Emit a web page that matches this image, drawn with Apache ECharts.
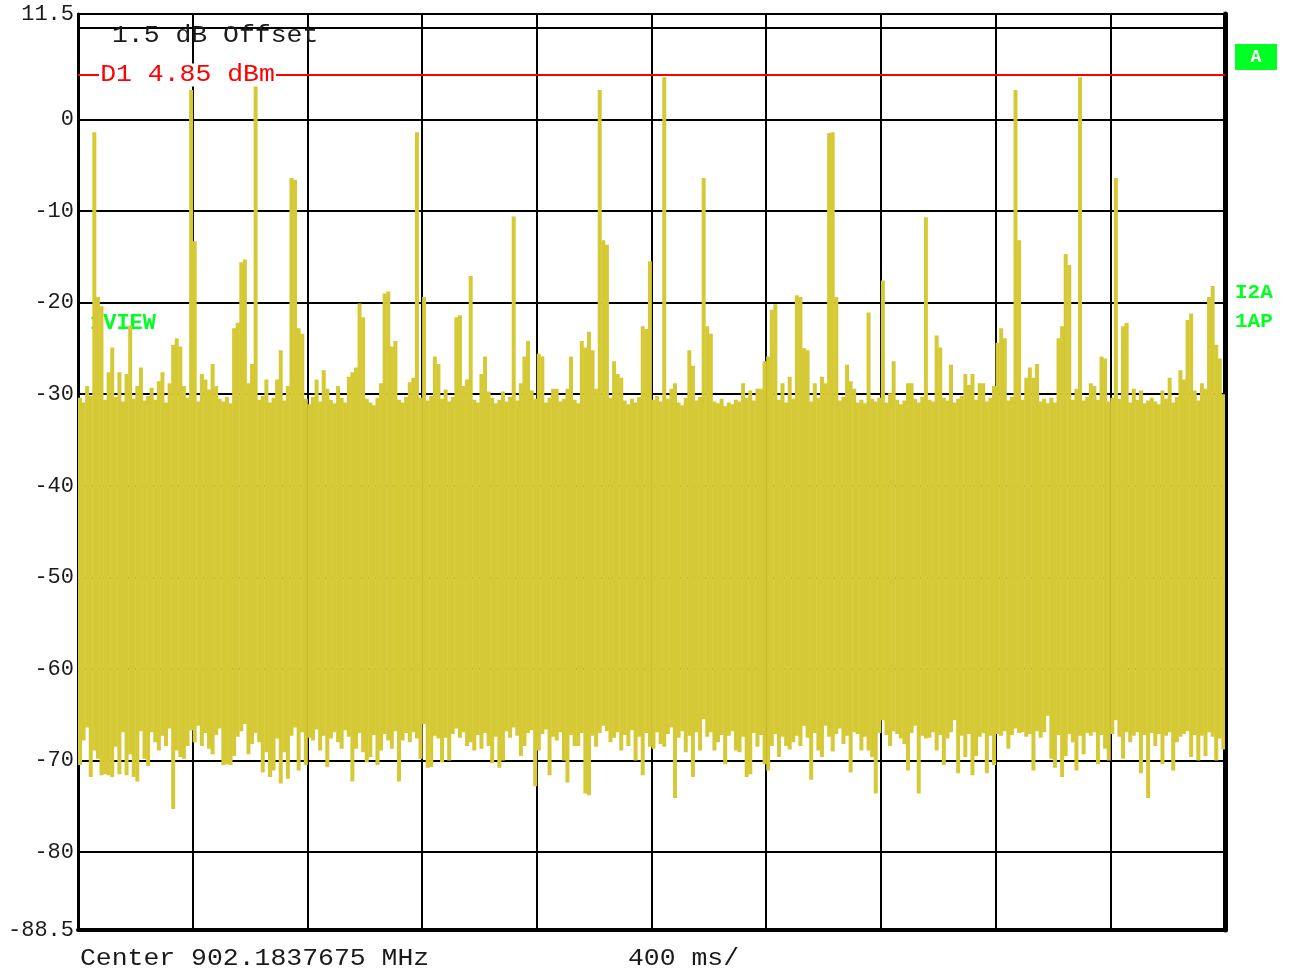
<!DOCTYPE html>
<html>
<head>
<meta charset="utf-8">
<title>Zero span trace</title>
<script src="https://cdn.jsdelivr.net/npm/echarts@6/dist/echarts.min.js"></script>
<style>
  html, body { margin: 0; padding: 0; background: #ffffff; }
  #chart { width: 1289px; height: 974px; }
</style>
</head>
<body>
<div id="chart"></div>
<script>
// Sweep settings
const sweepMs = 4000;          // 10 divisions x 400 ms
const divMs = 400;
const refMin = -88.5;
const refMax = 11.5;
const displayLine = 4.85;      // D1 display line, dBm
const offsetDb = 1.5;
const centerMhz = '902.1837675';

// Per-bin maximum of the trace (dBm), 320 bins over the sweep
const peakDbm = [
  -30.4,-30.9,-29.1,-30.2,-1.4,-19.4,-20.4,-30.6,-27.6,-24.9,-30.3,-27.6,-30.8,-27.8,-22.5,-30.5,-29.1,-27.1,-30.7,-30.2,
  -29.3,-30.6,-28.6,-27.6,-30.9,-28.8,-24.6,-23.9,-24.8,-29.1,-30.4,3.2,-13.3,-30.8,-27.8,-28.4,-29.5,-26.7,-29.1,-30.5,
  -30.8,-30.3,-31.0,-22.8,-22.2,-15.6,-15.3,-28.8,-26.7,4.2,-30.6,-30.2,-28.4,-30.9,-30.4,-28.4,-25.2,-30.7,-29.1,-6.4,
  -6.6,-22.8,-23.4,-30.5,-31.1,-30.3,-28.4,-30.8,-27.4,-29.4,-30.6,-31.0,-29.1,-30.4,-30.9,-28.1,-27.6,-27.1,-20.1,-21.6,
  -30.5,-30.9,-31.2,-30.4,-28.8,-19.0,-18.8,-24.8,-24.2,-30.6,-30.9,-30.3,-28.7,-28.2,-1.4,-30.4,-19.4,-30.7,-30.2,-25.9,
  -26.7,-30.5,-29.5,-30.8,-30.3,-21.6,-21.4,-29.1,-28.4,-17.1,-30.6,-30.9,-27.8,-25.9,-29.7,-30.4,-31.0,-30.6,-29.7,-30.8,
  -30.3,-10.6,-30.7,-28.8,-25.9,-24.2,-29.6,-30.5,-25.6,-25.9,-30.9,-30.4,-29.4,-29.4,-30.8,-30.5,-29.4,-25.9,-30.6,-31.0,
  -24.2,-24.9,-23.2,-25.2,-29.4,3.2,-13.2,-13.7,-30.4,-26.4,-27.8,-28.2,-30.7,-31.1,-30.5,-30.9,-30.3,-22.6,-22.9,-15.5,
  -30.6,-30.2,-30.8,4.6,-30.5,-29.4,-28.8,-30.9,-31.2,-30.4,-25.2,-26.9,-30.7,-30.3,-6.4,-22.6,-23.4,-30.8,-31.0,-30.5,
  -31.3,-30.9,-31.1,-30.6,-30.8,-28.8,-30.4,-29.6,-30.7,-29.4,-29.4,-26.4,-25.9,-20.8,-20.2,-30.6,-28.8,-30.9,-28.1,-30.5,
  -19.2,-19.4,-25.0,-25.2,-30.8,-28.8,-30.4,-28.1,-28.8,-1.5,-1.4,-19.4,-30.7,-30.3,-26.8,-28.6,-29.4,-30.9,-30.6,-31.0,
  -21.1,-30.5,-30.8,-30.4,-17.6,-30.9,-29.9,-26.4,-30.6,-31.1,-30.7,-28.8,-28.8,-30.5,-30.9,-30.3,-10.7,-30.6,-30.8,-23.6,
  -24.9,-30.4,-30.7,-26.8,-30.9,-30.5,-30.2,-27.8,-29.0,-27.8,-30.6,-28.8,-28.8,-30.8,-30.4,-29.1,-24.4,-22.8,-23.9,-30.7,
  -30.3,3.2,-13.2,-30.6,-28.2,-27.1,-28.2,-26.7,-30.8,-30.5,-31.0,-30.4,-30.9,-23.9,-22.6,-14.7,-15.9,-30.6,-29.4,4.6,
  -30.7,-30.3,-28.8,-29.1,-30.6,-25.9,-26.1,-30.8,-30.4,-6.4,-30.5,-22.6,-22.2,-30.9,-29.4,-30.6,-29.6,-31.0,-30.7,-30.4,
  -30.8,-31.1,-29.6,-30.5,-28.2,-30.9,-30.3,-27.4,-28.4,-21.9,-21.2,-29.6,-30.7,-28.8,-29.4,-19.4,-18.2,-24.6,-26.1,-30.0
];

// Per-bin minimum of the trace (dBm), same bins
const floorDbm = [
  -70.5,-67.8,-66.4,-71.8,-68.9,-69.8,-71.6,-71.5,-71.6,-71.8,-68.5,-71.5,-66.9,-71.6,-69.3,-71.8,-72.3,-66.8,-69.8,-70.6,
  -66.9,-68.0,-68.9,-67.3,-68.4,-66.5,-75.3,-68.9,-69.6,-69.8,-68.4,-66.7,-68.0,-66.2,-68.4,-67.0,-68.7,-69.3,-67.2,-66.5,
  -70.5,-70.4,-70.5,-69.5,-67.4,-66.8,-66.0,-69.3,-68.2,-67.0,-68.0,-71.3,-69.1,-71.8,-71.1,-67.6,-72.5,-69.1,-72.0,-67.3,
  -66.4,-71.1,-66.9,-70.5,-67.5,-67.8,-66.6,-68.9,-67.3,-70.7,-67.6,-66.9,-68.0,-68.7,-66.7,-67.4,-72.3,-68.7,-67.0,-69.1,
  -70.2,-69.6,-67.2,-70.5,-68.9,-67.1,-67.8,-68.7,-66.8,-72.3,-67.8,-67.0,-68.0,-66.9,-67.6,-69.8,-66.0,-70.8,-70.7,-67.3,
  -67.6,-70.2,-67.5,-70.0,-67.1,-66.5,-67.5,-66.9,-68.4,-68.0,-68.9,-67.2,-68.7,-67.0,-68.4,-70.3,-67.4,-70.8,-70.0,-66.8,
  -67.5,-66.4,-67.3,-69.5,-68.4,-67.0,-66.7,-72.8,-68.9,-67.1,-66.6,-71.6,-67.4,-67.8,-66.9,-70.0,-72.4,-67.2,-68.4,-68.4,
  -67.0,-73.6,-73.8,-67.3,-68.5,-67.0,-66.2,-66.8,-68.0,-67.5,-66.9,-68.9,-67.2,-68.4,-66.7,-70.0,-67.4,-71.6,-67.0,-68.5,
  -68.7,-66.9,-68.2,-68.5,-67.1,-66.4,-74.1,-67.5,-66.8,-69.1,-67.3,-71.8,-66.9,-68.9,-65.5,-67.4,-66.9,-68.9,-68.0,-67.2,
  -70.4,-67.3,-66.8,-68.9,-69.1,-67.4,-71.8,-71.5,-67.0,-68.5,-67.2,-70.4,-71.1,-68.4,-67.1,-69.6,-67.4,-68.4,-68.8,-68.0,
  -67.3,-68.4,-66.2,-67.5,-72.1,-67.0,-68.9,-69.6,-66.2,-67.4,-69.0,-67.1,-66.5,-68.2,-67.3,-71.3,-66.9,-67.1,-68.9,-67.4,
  -68.9,-69.6,-73.6,-67.0,-65.6,-67.2,-68.4,-66.8,-67.1,-67.6,-68.2,-71.1,-67.0,-66.2,-73.6,-67.3,-67.6,-67.5,-66.9,-68.9,
  -67.2,-70.5,-67.6,-66.9,-65.6,-71.4,-67.3,-69.6,-67.1,-71.6,-69.5,-67.4,-67.0,-71.4,-67.3,-70.5,-67.1,-67.3,-66.8,-68.7,
  -67.2,-66.5,-67.0,-66.9,-67.4,-67.1,-71.1,-66.8,-67.5,-66.9,-65.1,-69.8,-70.8,-67.2,-71.8,-69.5,-67.1,-68.0,-71.1,-67.3,
  -69.3,-67.0,-67.3,-66.9,-70.4,-67.2,-68.7,-70.0,-67.1,-65.6,-67.4,-69.8,-66.9,-68.0,-67.3,-66.9,-71.4,-67.2,-74.1,-67.0,
  -68.4,-67.1,-70.4,-67.3,-66.9,-71.1,-68.0,-67.4,-67.1,-66.8,-69.6,-67.2,-70.0,-67.3,-69.5,-66.9,-67.4,-70.0,-67.6,-68.8
];

const traceColor = '#d6c936';
const gridColor = '#000000';
const textColor = '#1a1a1a';
const green = '#00ff22';
const monoFont = '"Liberation Mono", "DejaVu Sans Mono", monospace';
const wideText = 1.15;         // horizontal stretch for the instrument's wide character pitch

const binMs = sweepMs / peakDbm.length;
const traceData = peakDbm.map((top, i) => [i * binMs, top, floorDbm[i]]);

const chart = echarts.init(document.getElementById('chart'), null, { renderer: 'canvas' });

chart.setOption({
  animation: false,
  backgroundColor: '#ffffff',
  grid: { left: 78, right: 64, top: 14, bottom: 44, containLabel: false },
  xAxis: [
    {
      type: 'value', min: 0, max: sweepMs, interval: divMs, position: 'bottom',
      axisLine: { show: true, onZero: false, lineStyle: { color: gridColor, width: 4 } },
      axisTick: { show: false },
      axisLabel: { show: false },
      splitLine: { show: true, lineStyle: { color: gridColor, width: 2 } }
    },
    {
      type: 'value', min: 0, max: sweepMs, position: 'top',
      axisLine: { show: true, onZero: false, lineStyle: { color: gridColor, width: 2 } },
      axisTick: { show: false }, axisLabel: { show: false }, splitLine: { show: false }
    }
  ],
  yAxis: [
    {
      type: 'value', min: refMin, max: refMax, splitNumber: 10, position: 'left',
      axisLine: { show: true, onZero: false, lineStyle: { color: gridColor, width: 3 } },
      axisTick: { show: false },
      axisLabel: {
        margin: 4,
        color: textColor,
        fontFamily: monoFont,
        fontSize: 22,
        formatter: v => {
          if (v === 10) return '';
          return Number.isInteger(v) ? String(v) : v.toFixed(1);
        }
      },
      splitLine: { show: true, lineStyle: { color: gridColor, width: 2 } }
    },
    {
      type: 'value', min: refMin, max: refMax, position: 'right',
      axisLine: { show: true, onZero: false, lineStyle: { color: gridColor, width: 5 } },
      axisTick: { show: false }, axisLabel: { show: false }, splitLine: { show: false }
    }
  ],
  series: [
    {
      type: 'custom',
      name: 'Trace 1',
      xAxisIndex: 0,
      yAxisIndex: 0,
      clip: true,
      z: 3,
      encode: { x: 0, y: [1, 2] },
      data: traceData,
      renderItem: (params, api) => {
        const t = api.value(0);
        const pTop = api.coord([t, api.value(1)]);
        const pBot = api.coord([t + binMs, api.value(2)]);
        return {
          type: 'rect',
          shape: { x: pTop[0], y: pTop[1], width: pBot[0] - pTop[0] + 0.4, height: pBot[1] - pTop[1] },
          style: { fill: traceColor }
        };
      },
      markLine: {
        silent: true,
        symbol: 'none',
        label: { show: false },
        lineStyle: { color: '#ff0000', width: 2, type: 'solid' },
        data: [{ yAxis: displayLine }]
      }
    }
  ]
});

// Annotation texts placed through the axis scales
const yLine = chart.convertToPixel({ yAxisIndex: 0 }, displayLine);
const xLeft = chart.convertToPixel({ xAxisIndex: 0 }, 0);
const xRight = chart.convertToPixel({ xAxisIndex: 0 }, sweepMs);
const yBottom = chart.convertToPixel({ yAxisIndex: 0 }, refMin);

chart.setOption({
  graphic: [
    {
      type: 'text', id: 'offset', x: xLeft + 34, y: 36, z: 1, scaleX: wideText,
      style: { text: offsetDb.toFixed(1) + ' dB Offset', fill: textColor, font: '23px ' + monoFont, verticalAlign: 'middle' }
    },
    {
      type: 'text', id: 'd1', x: xLeft + 21, y: yLine, z: 20, scaleX: wideText,
      style: {
        text: 'D1 ' + displayLine.toFixed(2) + ' dBm', fill: '#ff0000', font: '23px ' + monoFont,
        verticalAlign: 'middle', backgroundColor: '#ffffff', padding: [0, 1, 0, 1]
      }
    },
    {
      type: 'text', id: 'view', x: xLeft + 12, y: 323, z: 1,
      style: { text: '1VIEW', fill: green, font: 'bold 22px ' + monoFont, verticalAlign: 'middle' }
    },
    {
      type: 'rect', id: 'abox', x: xRight + 10, y: 44, z: 1,
      shape: { width: 42, height: 26 },
      style: { fill: green }
    },
    {
      type: 'text', id: 'aletter', x: xRight + 31, y: 57, z: 2,
      style: { text: 'A', fill: '#ffffff', font: 'bold 18px ' + monoFont, align: 'center', verticalAlign: 'middle' }
    },
    {
      type: 'text', id: 'i2a', x: xRight + 10, y: 293, z: 1,
      style: { text: 'I2A', fill: green, font: 'bold 21px ' + monoFont, verticalAlign: 'middle' }
    },
    {
      type: 'text', id: 'oneap', x: xRight + 10, y: 322, z: 1,
      style: { text: '1AP', fill: green, font: 'bold 21px ' + monoFont, verticalAlign: 'middle' }
    },
    {
      type: 'text', id: 'center', x: xLeft + 2, y: yBottom + 29, z: 1, scaleX: wideText,
      style: { text: 'Center ' + centerMhz + ' MHz', fill: textColor, font: '23px ' + monoFont, verticalAlign: 'middle' }
    },
    {
      type: 'text', id: 'span', x: 628, y: yBottom + 29, z: 1, scaleX: wideText,
      style: { text: (divMs) + ' ms/', fill: textColor, font: '23px ' + monoFont, verticalAlign: 'middle' }
    }
  ]
});
</script>
</body>
</html>
